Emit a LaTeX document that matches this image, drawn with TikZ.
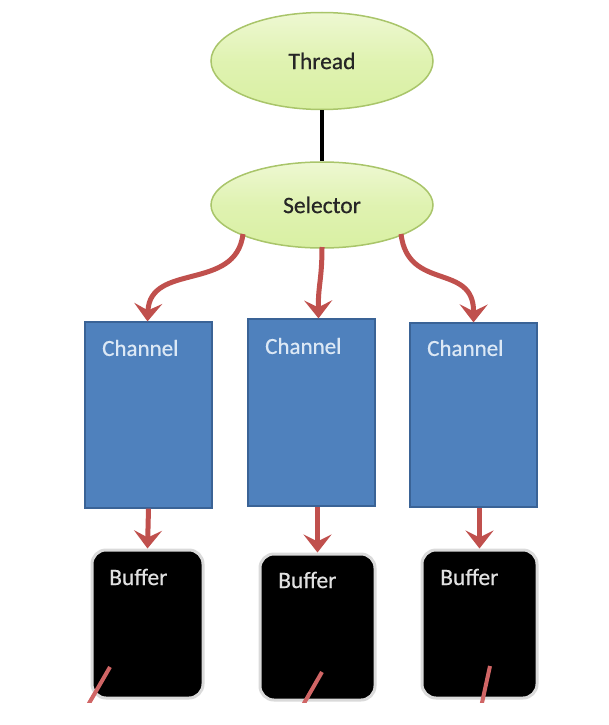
\documentclass[tikz,border=0pt]{standalone}
\usepackage{fontspec}
\setmainfont{Carlito}[FakeBold=0.6]
\usetikzlibrary{arrows.meta,shapes.geometric}
\definecolor{elfill}{HTML}{D9F0A3}
\definecolor{eltop}{HTML}{EEF8D2}
\definecolor{eldraw}{HTML}{A9C56A}
\definecolor{chfill}{HTML}{4F81BD}
\definecolor{chdraw}{HTML}{3A6396}
\definecolor{chtext}{HTML}{DCE8F5}
\definecolor{arrred}{HTML}{C0504D}
\definecolor{linered}{HTML}{D06565}
\definecolor{glow}{HTML}{DADADA}
\tikzset{
  ellnode/.style={ellipse, draw=eldraw, line width=1.5pt, top color=eltop, bottom color=elfill, middle color=elfill!70!eltop, font=\fontsize{23.5}{25}\selectfont, text=black!85},
  chbox/.style={rectangle, draw=chdraw, line width=1.2pt, fill=chfill, minimum width=127pt, minimum height=186pt, inner sep=0pt},
  chlabel/.style={anchor=west, inner sep=0pt, text=chtext, font=\fontsize{23}{25}\selectfont},
  bufbox/.style={rectangle, rounded corners=14pt, draw=glow, line width=3pt, fill=black, inner sep=0pt},
  buflabel/.style={anchor=west, inner sep=0pt, text=white!88!black, font=\fontsize{23.5}{25}\selectfont},
  redarrow/.style={draw=arrred, line width=5pt, -{Stealth[length=18pt,width=28pt,inset=7pt]}},
  redline/.style={draw=linered, line width=4pt}
}
\begin{document}
\begin{tikzpicture}[x=1pt,y=-1pt]
\useasboundingbox (0,0) rectangle (608,725);
\begin{scope}
\clip (0,0) rectangle (608,702);
% ellipses
\node[ellnode, minimum width=222pt, minimum height=97pt] (thread) at (322,61) {Thread};
\node[ellnode, minimum width=222pt, minimum height=86pt] (selector) at (322,205) {Selector};
\draw[line width=4pt, black] (thread.south) -- (selector.north);
% channels
\node[chbox, minimum height=186pt] (ch1) at (148.5,415) {};
\node[chbox, minimum height=187pt] (ch2) at (311.5,412.5) {};
\node[chbox, minimum height=184pt] (ch3) at (473.5,415) {};
\node[chlabel] (ch1t) at (102,348) {Channel};
\node[chlabel] (ch2t) at (265,346) {Channel};
\node[chlabel] (ch3t) at (427,348) {Channel};
% buffers
\node[bufbox, minimum width=111pt, minimum height=148pt] (b1) at (147.5,624) {};
\node[bufbox, minimum width=115pt, minimum height=146pt] (b2) at (317.5,627) {};
\node[bufbox, minimum width=115pt, minimum height=148pt] (b3) at (479.5,624) {};
\node[buflabel] (b1t) at (109,577) {Buffer};
\node[buflabel] (b2t) at (278,580) {Buffer};
\node[buflabel] (b3t) at (440,577) {Buffer};
% selector -> channels
\coordinate (s1) at (243,234);
\coordinate (s2) at (322,247);
\coordinate (s3) at (401,234);
\draw[redarrow] (s1) .. controls (236,292) and (150,262) .. ([xshift=-1pt]ch1.north);
\draw[redarrow] (s2) .. controls (322,280) and (318,285) .. ([xshift=7pt]ch2.north);
\draw[redarrow] (s3) .. controls (408,292) and (474,262) .. (ch3.north);
% channels -> buffers
\draw[redarrow] (ch1.south) -- (b1.north);
\draw[redarrow] ([xshift=6pt]ch2.south) -- ([xshift=0pt]b2.north);
\draw[redarrow] ([xshift=6pt]ch3.south) -- ([xshift=0pt]b3.north);
% red lines inside buffers
\coordinate (l1a) at (110,667);
\coordinate (l1b) at (84,712);
\coordinate (l2a) at (322,672);
\coordinate (l2b) at (299,712);
\coordinate (l3a) at (490,666);
\coordinate (l3b) at (480,712);
\draw[redline] (l1a) -- (l1b);
\draw[redline] (l2a) -- (l2b);
\draw[redline] (l3a) -- (l3b);
\end{scope}
\end{tikzpicture}
\end{document}
